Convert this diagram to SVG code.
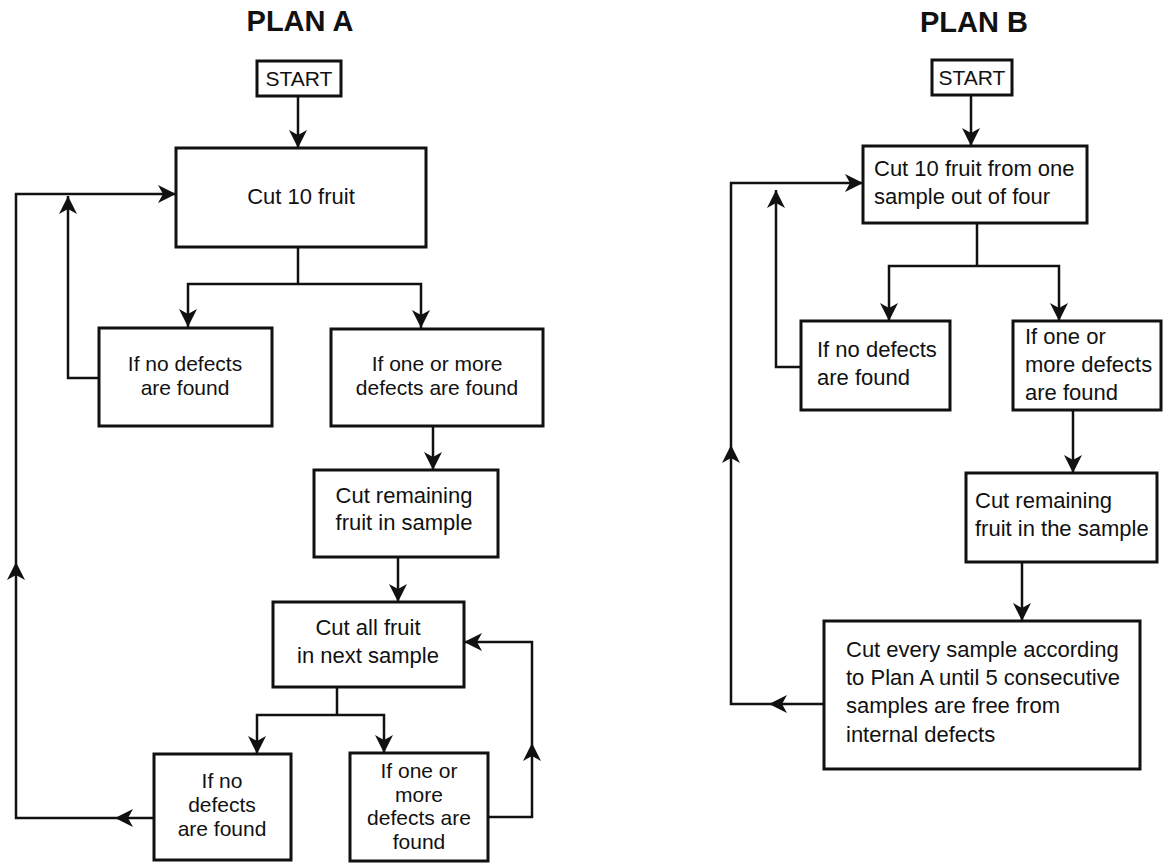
<svg xmlns="http://www.w3.org/2000/svg" width="1163" height="865" viewBox="0 0 1163 865">
<style>
.box{fill:#fff;stroke:#111;stroke-width:3}
.t{font-family:"Liberation Sans",Arial,Helvetica,sans-serif;font-size:22px;fill:#111}
.c{text-anchor:middle}
.s{font-size:21px}
.title{font-family:"Liberation Sans",Arial,Helvetica,sans-serif;font-size:29px;font-weight:bold;text-anchor:middle;fill:#111}
.conn path{fill:none;stroke:#111;stroke-width:2.5}
.conn path.a{marker-end:url(#ah)}
</style>
<defs>
<marker id="ah" markerUnits="userSpaceOnUse" markerWidth="20" markerHeight="20" refX="18" refY="9" orient="auto">
<path d="M0,0 L18,9 L0,18 L5,9 Z" fill="#111"/>
</marker>
</defs>
<rect width="1163" height="865" fill="#fff"/>

<g id="titles">
<text class="title" x="300" y="31">PLAN A</text>
<text class="title" x="974" y="32">PLAN B</text>
</g>

<g class="conn" id="connectors">
<!-- Plan A -->
<path class="a" d="M298,96 V148"/>
<path d="M298,247 V284"/>
<path class="a" d="M298,284 H188 V327"/>
<path class="a" d="M298,284 H421 V328"/>
<path class="a" d="M99,378 H68 V196"/>
<path class="a" d="M154,818 H115"/>
<path class="a" d="M115,818 H16 V562"/>
<path class="a" d="M16,562 V194 H176"/>
<path class="a" d="M433,426 V470"/>
<path class="a" d="M398,557 V602"/>
<path d="M337,687 V715"/>
<path class="a" d="M337,715 H257 V754"/>
<path class="a" d="M337,715 H384 V753"/>
<path class="a" d="M488,817 H532 V743"/>
<path class="a" d="M532,743 V642 H464"/>
<!-- Plan B -->
<path class="a" d="M971,95 V146"/>
<path d="M977,223 V266"/>
<path class="a" d="M977,266 H889 V321"/>
<path class="a" d="M977,266 H1059 V321"/>
<path class="a" d="M801,367 H776 V190"/>
<path class="a" d="M1073,410 V473"/>
<path class="a" d="M1022,562 V621"/>
<path class="a" d="M824,704 H769"/>
<path class="a" d="M769,704 H731 V445"/>
<path class="a" d="M731,445 V183 H863"/>
</g>

<g id="a_start">
<rect class="box" x="257" y="61" width="84" height="35"/>
<text class="t c s" x="299" y="86">START</text>
</g>
<g id="a_cut10">
<rect class="box" x="176" y="148" width="250" height="99"/>
<text class="t c" x="301" y="204">Cut 10 fruit</text>
</g>
<g id="a_nodef">
<rect class="box" x="99" y="328" width="173" height="98"/>
<text class="t c s" x="185" y="371">If no defects</text>
<text class="t c s" x="185" y="395">are found</text>
</g>
<g id="a_some">
<rect class="box" x="331" y="329" width="212" height="97"/>
<text class="t c s" x="437" y="371">If one or more</text>
<text class="t c s" x="437" y="395">defects are found</text>
</g>
<g id="a_remaining">
<rect class="box" x="314" y="470" width="184" height="87"/>
<text class="t c" x="404" y="503">Cut remaining</text>
<text class="t c" x="404" y="530">fruit in sample</text>
</g>
<g id="a_all">
<rect class="box" x="273" y="602" width="191" height="85"/>
<text class="t c" x="368" y="635">Cut all fruit</text>
<text class="t c" x="368" y="663">in next sample</text>
</g>
<g id="a_nodef2">
<rect class="box" x="154" y="754" width="137" height="106"/>
<text class="t c s" x="222" y="788">If no</text>
<text class="t c s" x="222" y="812">defects</text>
<text class="t c s" x="222" y="836">are found</text>
</g>
<g id="a_some2">
<rect class="box" x="350" y="753" width="138" height="108"/>
<text class="t c s" x="419" y="778">If one or</text>
<text class="t c s" x="419" y="801.5">more</text>
<text class="t c s" x="419" y="825">defects are</text>
<text class="t c s" x="419" y="848.5">found</text>
</g>

<g id="b_start">
<rect class="box" x="932" y="60" width="80" height="35"/>
<text class="t c s" x="972" y="85">START</text>
</g>
<g id="b_cut10">
<rect class="box" x="863" y="146" width="224" height="77"/>
<text class="t" x="874" y="176">Cut 10 fruit from one</text>
<text class="t" x="874" y="204">sample out of four</text>
</g>
<g id="b_nodef">
<rect class="box" x="801" y="321" width="149" height="89"/>
<text class="t" x="817" y="357">If no defects</text>
<text class="t" x="817" y="385">are found</text>
</g>
<g id="b_some">
<rect class="box" x="1013" y="321" width="148" height="89"/>
<text class="t" x="1025" y="344">If one or</text>
<text class="t" x="1025" y="372">more defects</text>
<text class="t" x="1025" y="400">are found</text>
</g>
<g id="b_remaining">
<rect class="box" x="966" y="473" width="191" height="89"/>
<text class="t" x="975" y="508">Cut remaining</text>
<text class="t" x="975" y="536">fruit in the sample</text>
</g>
<g id="b_planA">
<rect class="box" x="824" y="621" width="316" height="148"/>
<text class="t" x="846" y="657">Cut every sample according</text>
<text class="t" x="846" y="685">to Plan A until 5 consecutive</text>
<text class="t" x="846" y="713">samples are free from</text>
<text class="t" x="846" y="742">internal defects</text>
</g>
</svg>
